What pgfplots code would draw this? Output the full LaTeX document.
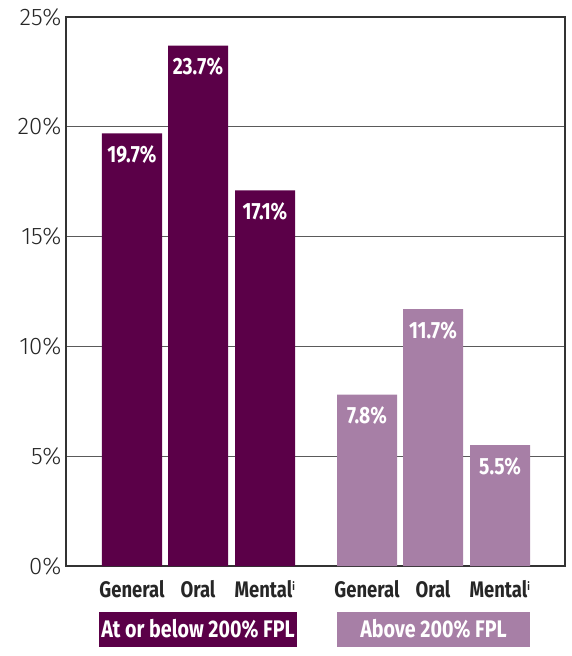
\documentclass[border=0pt]{standalone}
\usepackage{pgfplots}
\pgfplotsset{compat=1.18}
\usepackage{fontspec}
\setmainfont{Fira Sans}
\newfontfamily\cond[FakeStretch=0.82]{Fira Sans}
\newfontfamily\reg{Fira Sans Light}
\definecolor{darkp}{HTML}{5B0048}
\definecolor{lightp}{HTML}{A77FA6}
\definecolor{gridc}{HTML}{5A5A5A}
\definecolor{axc}{HTML}{333333}
\begin{document}
\begin{tikzpicture}
\useasboundingbox (-66pt,-90pt) rectangle (505pt,566pt);
\begin{axis}[
  at={(0,0)}, anchor=south west,
  scale only axis, width=499pt, height=549pt,
  xmin=66, xmax=565, ymin=0, ymax=25,
  ytick={0,5,10,15,20,25},
  yticklabels={0\%,5\%,10\%,15\%,20\%,25\%},
  yticklabel style={font=\reg\fontsize{24}{28}\selectfont, text=black!85, xshift=-1pt},
  xtick={132,198,265,367,433,500},
  xticklabels={General,Oral,Mental\smash{\textsuperscript{\fontsize{11}{12}\selectfont i}},General,Oral,Mental\smash{\textsuperscript{\fontsize{11}{12}\selectfont i}}},
  xticklabel style={font=\cond\bfseries\fontsize{22.5}{26}\selectfont, text=black!85, yshift=-12pt, text height=16pt, text depth=5pt},
  major tick length=0pt,
  ymajorgrids, grid style={gridc, line width=1.3pt},
  axis line style={axc, line width=2.2pt},
  clip=false,
  bar width=60,
  point meta=explicit symbolic,
  nodes near coords,
  nodes near coords style={anchor=center, yshift=-21pt, text=white, font=\cond\bfseries\fontsize{23.5}{26}\selectfont},
]
\addplot[ybar, fill=darkp, draw=none] coordinates {(132,19.7) [19.7\%] (198,23.7) [23.7\%] (265,17.1) [17.1\%]};
\addplot[ybar, fill=lightp, draw=none] coordinates {(367,7.8) [7.8\%] (433,11.7) [11.7\%] (500,5.5) [5.5\%]};
\node[fill=darkp, text=white, minimum width=198pt, minimum height=35pt, inner sep=0pt,
  font=\cond\bfseries\fontsize{24}{26}\selectfont] at (axis cs:198,0) [yshift=-63pt] {At or below 200\% FPL};
\node[fill=lightp, text=white, minimum width=193pt, minimum height=35pt, inner sep=0pt,
  font=\cond\bfseries\fontsize{24}{26}\selectfont] at (axis cs:433.5,0) [yshift=-63pt] {Above 200\% FPL};
\end{axis}
\end{tikzpicture}
\end{document}
